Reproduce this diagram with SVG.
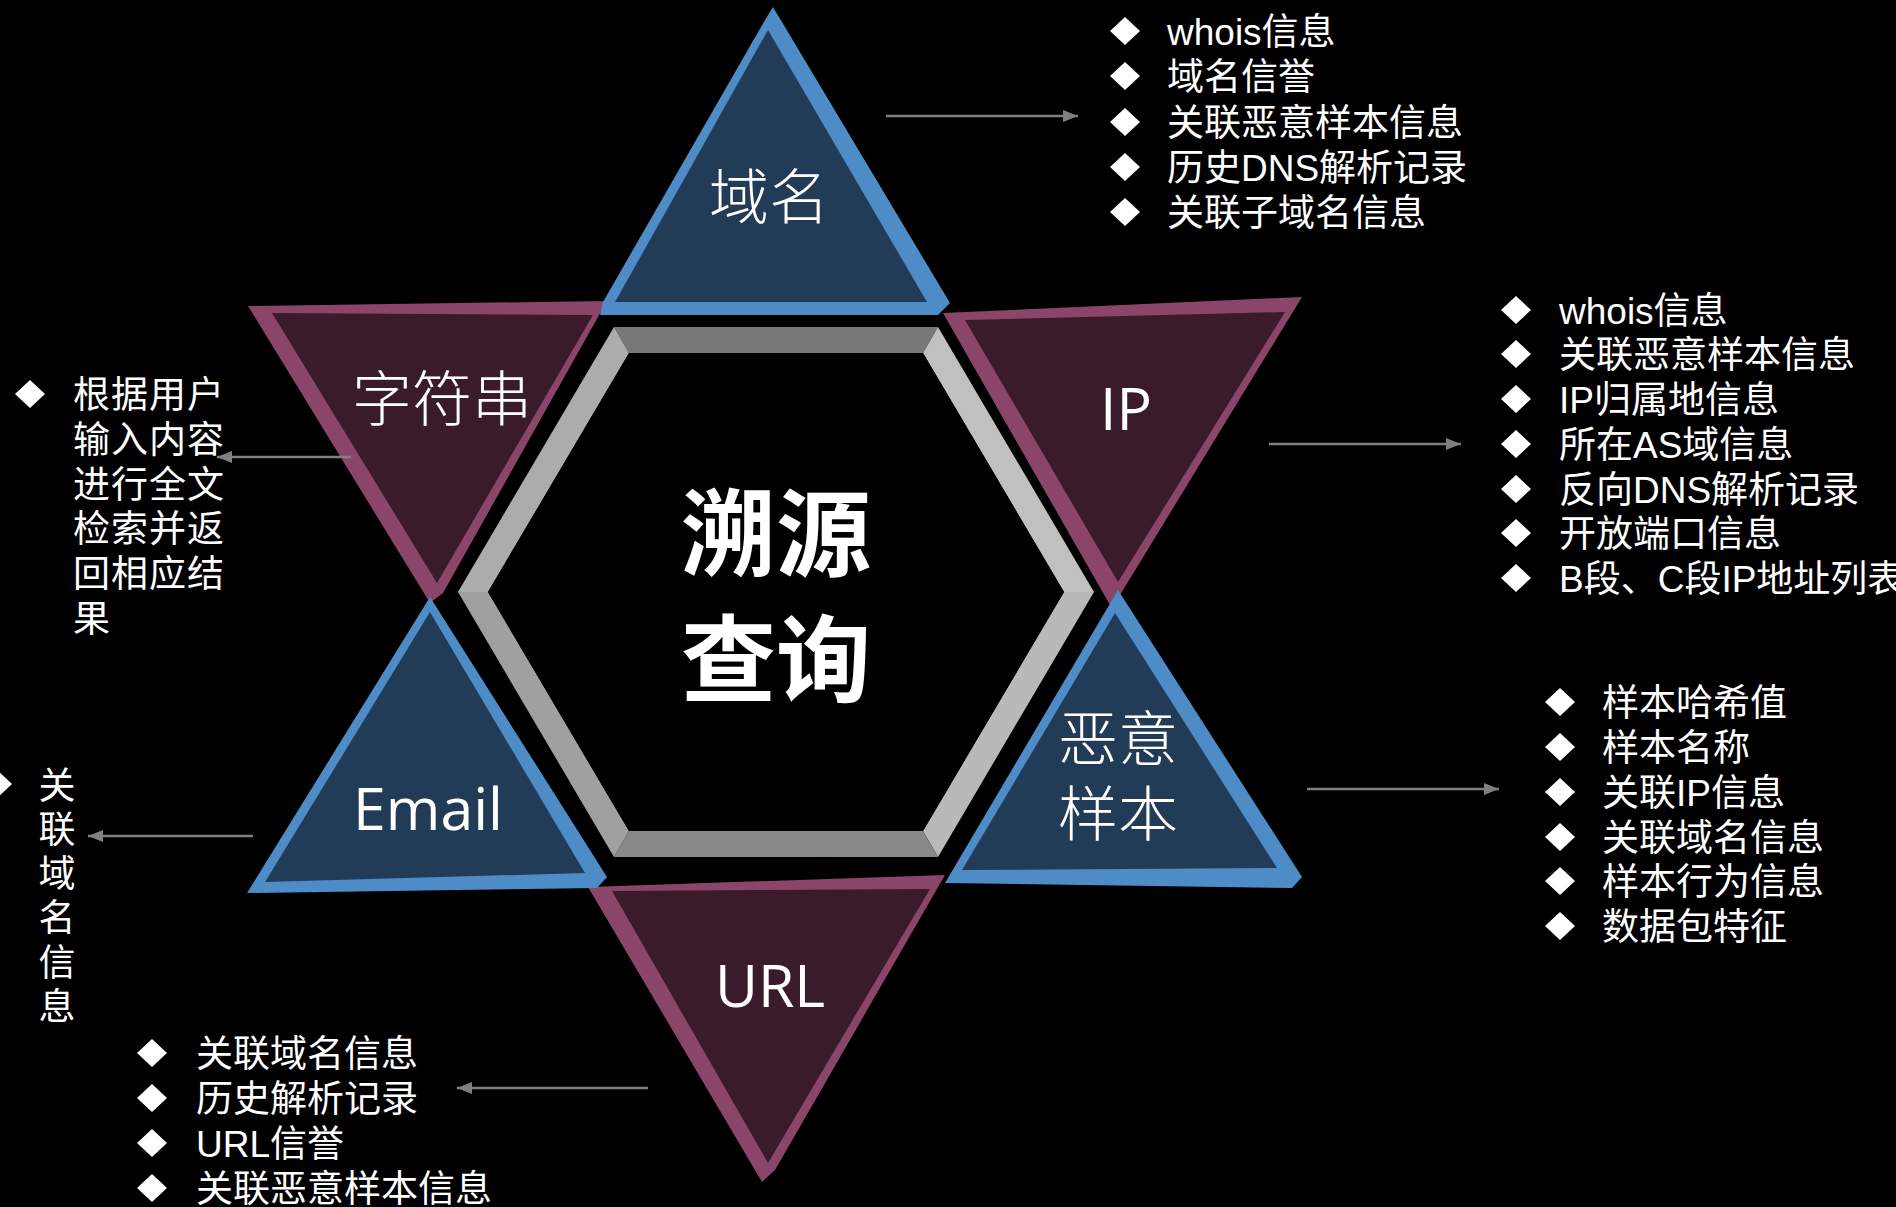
<svg xmlns="http://www.w3.org/2000/svg" width="1896" height="1207" viewBox="0 0 1896 1207">
<style>
.bf{fill:#4e8cc8}
.bface{fill:#223b56}
.pf{fill:#8b4569}
.pface{fill:#3a1b2c}
.cjk{font-family:"Noto Sans CJK SC",sans-serif;font-weight:300;fill:#fff}
.lat{font-family:"Open Sans","Noto Sans",sans-serif;fill:#fff}
.ctr{font-family:"Noto Sans CJK SC",sans-serif;font-weight:700;fill:#fff;font-size:95px}
.lst{font-family:"Liberation Sans","Noto Sans CJK SC",sans-serif;fill:#fff;font-size:37px}
.dia{fill:#fff}
.con line{stroke:#808080;stroke-width:2.5}
</style>
<defs>
<marker id="ah" viewBox="0 0 15 12" refX="15" refY="6" markerWidth="15" markerHeight="12" markerUnits="userSpaceOnUse" orient="auto"><path d="M0,0 L15,6 L0,12 Z" fill="#808080"/></marker>
<polygon id="d" points="0,-14 15,0 0,14 -15,0"/>
</defs>
<rect x="0" y="0" width="1896" height="1207" fill="#000"/>

<g id="hexagon">
<polygon points="614,327 938,327 923,353 629,353" fill="#787878"/>
<polygon points="938,327 1094,592 1064,592 923,353" fill="#c0c0c0"/>
<polygon points="1094,592 938,857 923,831 1064,592" fill="#b9b9b9"/>
<polygon points="938,857 614,857 629,831 923,831" fill="#888888"/>
<polygon points="614,857 458,592 488,592 629,831" fill="#a0a0a0"/>
<polygon points="458,592 614,327 629,353 488,592" fill="#acacac"/>
<polygon points="488,592 629,353 923,353 1064,592 923,831 629,831" fill="#000"/>
<text class="ctr" x="776" y="569" text-anchor="middle">溯源</text>
<text class="ctr" x="776" y="695" text-anchor="middle">查询</text>
</g>

<g id="node-string">
<polygon class="pf" points="248,306 607,301 443,593 430,603"/>
<polygon class="pface" points="272,313 593,315 437,583"/>
<text class="cjk" x="442" y="421" font-size="60" text-anchor="middle">字符串</text>
</g>

<g id="node-ip">
<polygon class="pf" points="943,313 1302,297 1120,595 1110,605"/>
<polygon class="pface" points="965,320 1285,312 1118,582"/>
<text class="lat" x="1126" y="430" font-size="59" text-anchor="middle">IP</text>
</g>

<g id="node-url">
<polygon class="pf" points="588,887 945,875 775,1170 762,1182"/>
<polygon class="pface" points="612,891 930,889 768,1163"/>
<text class="lat" x="770" y="1007" font-size="59" text-anchor="middle">URL</text>
</g>

<g id="node-domain">
<polygon class="bf" points="773,7 950,303 938,315 600,315 603,302 765,20"/>
<polygon class="bface" points="768,30 927,302 615,302"/>
<text class="cjk" x="769" y="219" font-size="60" text-anchor="middle">域名</text>
</g>

<g id="node-email">
<polygon class="bf" points="430,597 607,877 597,888 247,893"/>
<polygon class="bface" points="430,612 585,873 265,882"/>
<text class="lat" x="428" y="830" font-size="59" text-anchor="middle">Email</text>
</g>

<g id="node-sample">
<polygon class="bf" points="1118,590 1302,877 1292,888 945,883"/>
<polygon class="bface" points="1115,613 1277,868 962,870"/>
<text class="cjk" x="1118" y="761" font-size="60" text-anchor="middle">恶意</text>
<text class="cjk" x="1118" y="836" font-size="60" text-anchor="middle">样本</text>
</g>

<g id="connectors" class="con">
<line x1="886" y1="116" x2="1078" y2="116" marker-end="url(#ah)"/>
<line x1="1269" y1="444" x2="1461" y2="444" marker-end="url(#ah)"/>
<line x1="1307" y1="789" x2="1499" y2="789" marker-end="url(#ah)"/>
<line x1="648" y1="1088" x2="457" y2="1088" marker-end="url(#ah)"/>
<line x1="253" y1="836" x2="88" y2="836" marker-end="url(#ah)"/>
<line x1="351" y1="457" x2="217" y2="457" marker-end="url(#ah)"/>
</g>

<g id="list-domain">
<use href="#d" class="dia" x="1125" y="31"/>
<use href="#d" class="dia" x="1125" y="76"/>
<use href="#d" class="dia" x="1125" y="122"/>
<use href="#d" class="dia" x="1125" y="167"/>
<use href="#d" class="dia" x="1125" y="212"/>
<text class="lst" x="1167" y="45">whois信息</text>
<text class="lst" x="1167" y="90">域名信誉</text>
<text class="lst" x="1167" y="136">关联恶意样本信息</text>
<text class="lst" x="1167" y="181">历史DNS解析记录</text>
<text class="lst" x="1167" y="226">关联子域名信息</text>
</g>

<g id="list-ip">
<use href="#d" class="dia" x="1516" y="310"/>
<use href="#d" class="dia" x="1516" y="354"/>
<use href="#d" class="dia" x="1516" y="399"/>
<use href="#d" class="dia" x="1516" y="444"/>
<use href="#d" class="dia" x="1516" y="489"/>
<use href="#d" class="dia" x="1516" y="533"/>
<use href="#d" class="dia" x="1516" y="578"/>
<text class="lst" x="1559" y="324">whois信息</text>
<text class="lst" x="1559" y="368">关联恶意样本信息</text>
<text class="lst" x="1559" y="413">IP归属地信息</text>
<text class="lst" x="1559" y="458">所在AS域信息</text>
<text class="lst" x="1559" y="503">反向DNS解析记录</text>
<text class="lst" x="1559" y="547">开放端口信息</text>
<text class="lst" x="1559" y="592">B段、C段IP地址列表</text>
</g>

<g id="list-sample">
<use href="#d" class="dia" x="1560" y="702"/>
<use href="#d" class="dia" x="1560" y="747"/>
<use href="#d" class="dia" x="1560" y="792"/>
<use href="#d" class="dia" x="1560" y="837"/>
<use href="#d" class="dia" x="1560" y="881"/>
<use href="#d" class="dia" x="1560" y="926"/>
<text class="lst" x="1602" y="716">样本哈希值</text>
<text class="lst" x="1602" y="761">样本名称</text>
<text class="lst" x="1602" y="806">关联IP信息</text>
<text class="lst" x="1602" y="851">关联域名信息</text>
<text class="lst" x="1602" y="895">样本行为信息</text>
<text class="lst" x="1602" y="940">数据包特征</text>
</g>

<g id="list-url">
<use href="#d" class="dia" x="152" y="1053"/>
<use href="#d" class="dia" x="152" y="1098"/>
<use href="#d" class="dia" x="152" y="1143"/>
<use href="#d" class="dia" x="152" y="1188"/>
<text class="lst" x="196" y="1067">关联域名信息</text>
<text class="lst" x="196" y="1112">历史解析记录</text>
<text class="lst" x="196" y="1157">URL信誉</text>
<text class="lst" x="196" y="1202">关联恶意样本信息</text>
</g>

<g id="list-string">
<use href="#d" class="dia" x="30" y="394"/>
<text class="lst" x="73" y="408" font-size="35" letter-spacing="1">根据用户</text>
<text class="lst" x="73" y="453" font-size="35" letter-spacing="1">输入内容</text>
<text class="lst" x="73" y="498" font-size="35" letter-spacing="1">进行全文</text>
<text class="lst" x="73" y="542" font-size="35" letter-spacing="1">检索并返</text>
<text class="lst" x="73" y="587" font-size="35" letter-spacing="1">回相应结</text>
<text class="lst" x="73" y="632" font-size="35" letter-spacing="1">果</text>
</g>

<g id="list-email">
<use href="#d" class="dia" x="-3" y="784"/>
<text class="lst" x="57" y="799" font-size="35" text-anchor="middle">关</text>
<text class="lst" x="57" y="843" font-size="35" text-anchor="middle">联</text>
<text class="lst" x="57" y="887" font-size="35" text-anchor="middle">域</text>
<text class="lst" x="57" y="931" font-size="35" text-anchor="middle">名</text>
<text class="lst" x="57" y="976" font-size="35" text-anchor="middle">信</text>
<text class="lst" x="57" y="1020" font-size="35" text-anchor="middle">息</text>
</g>
</svg>
